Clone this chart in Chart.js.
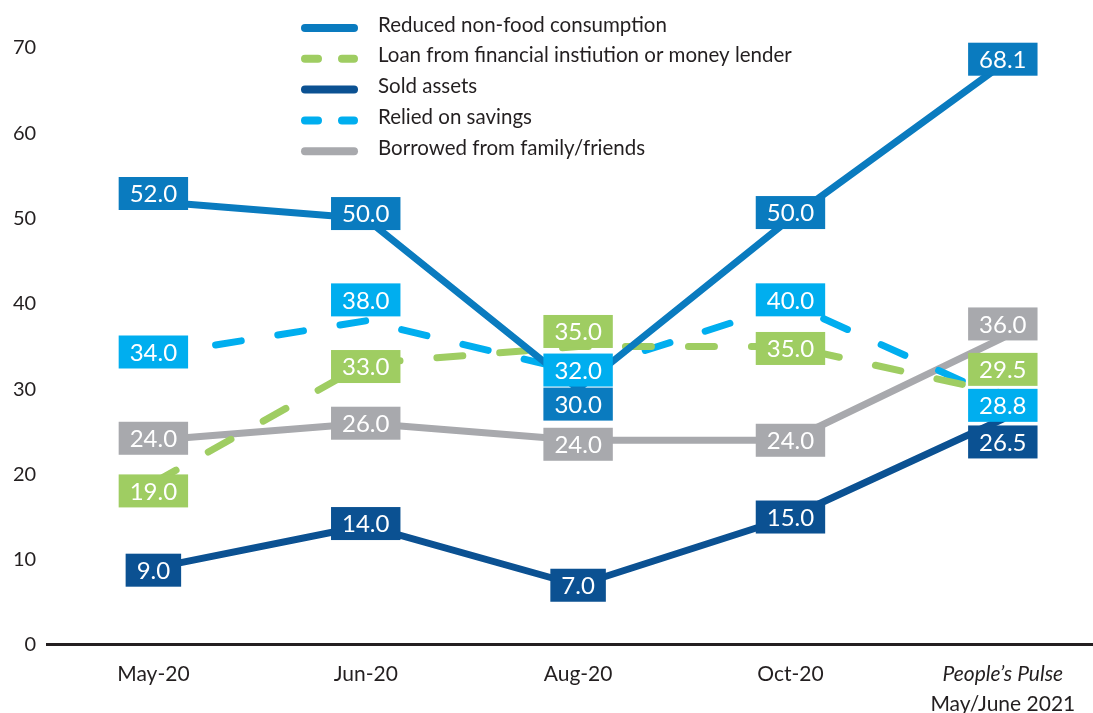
<!DOCTYPE html>
<html>
<head>
<meta charset="utf-8">
<script src="https://cdn.jsdelivr.net/npm/chart.js@4.4.0/dist/chart.umd.min.js"></script>
<style>
  html, body { margin: 0; background: #fff; overflow: hidden; width: 1093px; height: 713px; }
  canvas { display: block; }
</style>
</head>
<body>
<!-- canvas a bit bigger than the window: the x axis runs off the right edge like the original -->
<canvas id="myChart" width="1109" height="733"></canvas>
<script>
const categories = ['May-20', 'Jun-20', 'Aug-20', 'Oct-20', ['People\u2019s Pulse', 'May/June 2021']];

const nonFood = [52.0, 50.0, 30.0, 50.0, 68.1];
const loan = [19.0, 33.0, 35.0, 35.0, 29.5];
const soldAssets = [9.0, 14.0, 7.0, 15.0, 26.5];
const savings = [34.0, 38.0, 32.0, 40.0, 28.8];
const family = [24.0, 26.0, 24.0, 24.0, 36.0];

const yTicks = [0, 10, 20, 30, 40, 50, 60, 70];

// label box nudges (px) so the boxes don't sit on top of each other
const labelShift = [
    [-8, -5, 15, -6, -5],
    [8, 3, -15, 2, -24],
    [2, -2, 0, 0, 23],
    [-3, -21, -2, -4, 6],
    [-2, 0, 4, 0, -14]
];

const FONT = 'Lato';
const TEXT = '#231f20';

const data = {
    labels: categories,
    datasets: [{
        label: 'Reduced non-food consumption',
        data: nonFood,
        borderColor: '#0a7bbf',
        backgroundColor: '#0a7bbf',
    }, {
        label: 'Loan from financial instiution or money lender',
        data: loan,
        borderColor: '#9fcd62',
        backgroundColor: '#9fcd62',
        borderDash: [26, 37],
    }, {
        label: 'Sold assets',
        data: soldAssets,
        borderColor: '#0b5192',
        backgroundColor: '#0b5192',
    }, {
        label: 'Relied on savings',
        data: savings,
        borderColor: '#00aeef',
        backgroundColor: '#00aeef',
        borderDash: [26, 37],
    }, {
        label: 'Borrowed from family/friends',
        data: family,
        borderColor: '#a8a9ad',
        backgroundColor: '#a8a9ad',
    }]
};

// legend stacked one per row over the top of the plot
const stackedLegend = {
    id: 'stackedLegend',
    afterDraw(chart) {
        const ctx = chart.ctx;
        ctx.save();
        chart.data.datasets.forEach((ds, i) => {
            const y = 25 + i * 30.8;
            ctx.beginPath();
            ctx.lineWidth = 8;
            ctx.lineCap = 'round';
            ctx.strokeStyle = ds.borderColor;
            ctx.setLineDash(ds.borderDash ? [13, 24] : []);
            ctx.moveTo(305, y + 3);
            ctx.lineTo(354, y + 3);
            ctx.stroke();
            ctx.setLineDash([]);
            ctx.fillStyle = TEXT;
            ctx.font = '20.5px ' + FONT;
            ctx.textBaseline = 'middle';
            ctx.textAlign = 'left';
            ctx.fillText(ds.label, 378, y);
        });
        ctx.restore();
    }
};

// value boxes
const valueBoxes = {
    id: 'valueBoxes',
    afterDatasetsDraw(chart) {
        const ctx = chart.ctx;
        ctx.save();
        ctx.font = '24px ' + FONT;
        ctx.textAlign = 'center';
        ctx.textBaseline = 'middle';
        chart.data.datasets.forEach((ds, i) => {
            const meta = chart.getDatasetMeta(i);
            meta.data.forEach((pt, j) => {
                const txt = ds.data[j].toFixed(1);
                const w = ctx.measureText(txt).width + 22;
                const h = 33;
                const cy = pt.y + labelShift[i][j];
                ctx.fillStyle = ds.backgroundColor;
                ctx.fillRect(pt.x - w / 2, cy - h / 2, w, h);
                ctx.fillStyle = '#fff';
                ctx.fillText(txt, pt.x, cy + 1);
            });
        });
        ctx.restore();
    }
};

// italic first line of the last category
const italicTick = {
    id: 'italicTick',
    afterDraw(chart) {
        const xs = chart.scales.x;
        const ctx = chart.ctx;
        ctx.save();
        ctx.font = 'italic 21px ' + FONT;
        ctx.fillStyle = TEXT;
        ctx.textAlign = 'center';
        ctx.textBaseline = 'middle';
        categories.forEach((c, i) => {
            if (Array.isArray(c)) {
                ctx.fillText(c[0], xs.getPixelForValue(i), xs.top + 14 + 15);
            }
        });
        ctx.restore();
    }
};

const config = {
    type: 'line',
    data: data,
    options: {
        responsive: false,
        animation: false,
        layout: {
            padding: { top: 48, left: 2, right: 0, bottom: 0 }
        },
        elements: {
            line: { borderWidth: 7, tension: 0, borderCapStyle: 'round', borderJoinStyle: 'round' },
            point: { radius: 0, hoverRadius: 0 }
        },
        plugins: {
            legend: { display: false },
            tooltip: { enabled: false }
        },
        scales: {
            x: {
                offset: true,
                grid: { display: false, drawTicks: false },
                border: { display: true, color: TEXT, width: 3 },
                ticks: {
                    color: TEXT,
                    padding: 14,
                    font: { family: FONT, size: 21, lineHeight: 1.43 },
                    maxRotation: 0,
                    callback: function (v) {
                        const l = categories[v];
                        return Array.isArray(l) ? ['', l[1]] : l;
                    }
                }
            },
            y: {
                min: 0,
                max: 70,
                afterBuildTicks: s => { s.ticks = yTicks.map(v => ({ value: v })); },
                grid: { display: false, drawTicks: false },
                border: { display: false },
                ticks: {
                    color: TEXT,
                    padding: 11,
                    font: { family: FONT, size: 20 }
                }
            }
        }
    },
    plugins: [valueBoxes, stackedLegend, italicTick]
};

const myChart = new Chart(document.getElementById('myChart'), config);
</script>
</body>
</html>
